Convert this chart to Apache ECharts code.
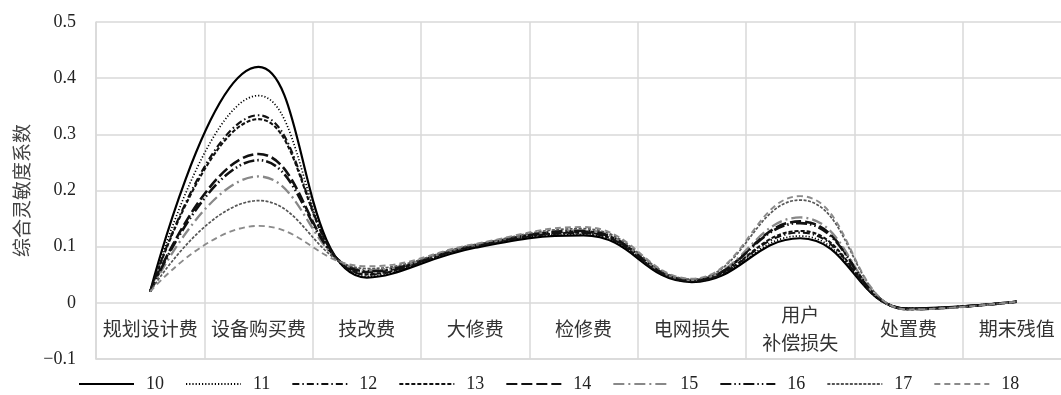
<!DOCTYPE html>
<html><head><meta charset="utf-8">
<script src="https://cdn.jsdelivr.net/npm/echarts@6/dist/echarts.min.js"></script>
<style>html,body{margin:0;padding:0;background:#fff}#c{width:1061px;height:395px}</style>
</head><body><div id="c"></div>
<script>
var categories = ['规划设计费','设备购买费','技改费','大修费','检修费','电网损失','用户\n补偿损失','处置费','期末残值'];
var seriesNames = ['10','11','12','13','14','15','16','17','18'];
var s10 = [0.020, 0.420, 0.045, 0.098, 0.120, 0.037, 0.115, -0.010, 0.002];
var s11 = [0.020, 0.369, 0.047, 0.100, 0.122, 0.038, 0.119, -0.010, 0.002];
var s12 = [0.020, 0.334, 0.050, 0.101, 0.124, 0.039, 0.125, -0.011, 0.002];
var s13 = [0.020, 0.327, 0.051, 0.101, 0.125, 0.039, 0.128, -0.011, 0.002];
var s14 = [0.020, 0.265, 0.055, 0.102, 0.127, 0.040, 0.145, -0.011, 0.002];
var s15 = [0.020, 0.225, 0.058, 0.103, 0.129, 0.041, 0.152, -0.012, 0.002];
var s16 = [0.020, 0.254, 0.056, 0.102, 0.128, 0.040, 0.142, -0.011, 0.002];
var s17 = [0.020, 0.182, 0.061, 0.104, 0.132, 0.042, 0.183, -0.012, 0.002];
var s18 = [0.020, 0.137, 0.065, 0.105, 0.135, 0.043, 0.190, -0.012, 0.002];
var yTicks = {min: -0.1, max: 0.5, interval: 0.1};

var allData = [s10, s11, s12, s13, s14, s15, s16, s17, s18];
var styles = [
  {color:'#000', width:2.2, type:'solid'},
  {color:'#000', width:1.7, type:[1.2,2]},
  {color:'#111', width:2.1, type:[7,3,1.5,3]},
  {color:'#111', width:2.1, type:[4,2]},
  {color:'#111', width:2.6, type:[11,4]},
  {color:'#888', width:2.3, type:[11,4,2,4]},
  {color:'#111', width:2.6, type:[11,3,1.5,3,1.5,3]},
  {color:'#555', width:1.7, type:[3,1.5]},
  {color:'#8a8a8a', width:1.9, type:[6,4]}
];
var serif = '"Liberation Serif","Noto Sans CJK SC",serif';
var series = allData.map(function(d, i){
  return {
    name: seriesNames[i], type:'line', data: d, smooth: 0.45,
    symbol:'none', lineStyle: styles[i], itemStyle:{color: styles[i].color},
    emphasis:{disabled:true}
  };
});
var chart = echarts.init(document.getElementById('c'));
chart.setOption({
  animation:false,
  backgroundColor:'#fff',
  grid:{left:96, right:-10, top:22, bottom:36, containLabel:false, outerBoundsMode:'none'},
  legend:{
    bottom:-3, left:73, itemWidth:55, itemHeight:14, itemGap:21,
    itemStyle:{opacity:0},
    textStyle:{fontFamily:serif, fontSize:18, color:'#222', padding:[0,0,0,7]},
    data: seriesNames
  },
  xAxis:{
    type:'category', data:categories, boundaryGap:true, position:'bottom',
    axisLine:{onZero:false, lineStyle:{color:'#d9d9d9', width:1.5}},
    axisTick:{show:false},
    axisLabel:{interval:0, margin:-28, verticalAlign:'middle', lineHeight:28,
      fontFamily:serif, fontSize:19, color:'#333'},
    splitLine:{show:true, interval:0, lineStyle:{color:'#d9d9d9', width:1.5}}
  },
  yAxis:{
    type:'value', min:yTicks.min, max:yTicks.max, interval:yTicks.interval,
    name:'综合灵敏度系数', nameLocation:'middle', nameGap:62, nameRotate:90,
    nameMoveOverlap:false,
    nameTextStyle:{fontFamily:serif, fontSize:19, color:'#444', padding:[12,0,0,0]},
    axisLine:{show:true, lineStyle:{color:'#d9d9d9', width:1.5}},
    axisTick:{show:false},
    axisLabel:{margin:20, fontFamily:serif, fontSize:18, color:'#222',
      formatter:function(v){ if (Math.abs(v) < 1e-9) return '0'; return (v<0?'\u22120.':'0.') + Math.round(Math.abs(v)*10); }},
    splitLine:{show:true, lineStyle:{color:'#d9d9d9', width:1.5}}
  },
  series: series
});
</script></body></html>
